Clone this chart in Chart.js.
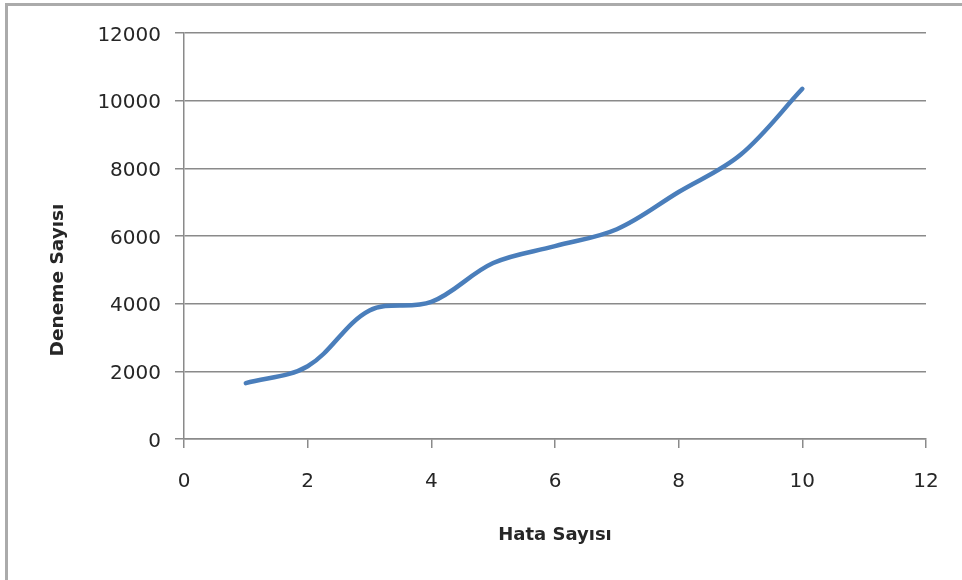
<!DOCTYPE html>
<html>
<head>
<meta charset="utf-8">
<script src="https://cdn.jsdelivr.net/npm/chart.js@4.4.1/dist/chart.umd.min.js"></script>
<style>
  html, body { margin: 0; padding: 0; background: #ffffff; }
  #wrap { width: 962px; height: 580px; position: relative; }
</style>
</head>
<body>
<div id="wrap"><canvas id="chart" width="962" height="580"></canvas></div>
<script>
// Hata sayısı (x) ve deneme sayısı (y)
const hataSayisi = [1, 2, 3, 4, 5, 6, 7, 8, 9, 10];
const denemeSayisi = [1650, 2150, 3800, 4050, 5200, 5700, 6200, 7300, 8400, 10350];

const xTitle = 'Hata Sayısı';
const yTitle = 'Deneme Sayısı';

const xRange = { min: 0, max: 12, step: 2 };
const yRange = { min: 0, max: 12000, step: 2000 };

const gridColor = '#8a8a8a';
const textColor = '#262626';
const lineColor = '#4a7ebb';

const points = hataSayisi.map((x, i) => ({ x: x, y: denemeSayisi[i] }));

// outer frame (left and top edges) and the rotated y-axis title
const framePlugin = {
  id: 'frame',
  beforeDraw(chart) {
    const ctx = chart.ctx;
    ctx.save();
    ctx.fillStyle = '#ffffff';
    ctx.fillRect(0, 0, chart.width, chart.height);
    ctx.fillStyle = '#ababab';
    ctx.fillRect(5, 3, chart.width, 3);
    ctx.fillRect(5, 3, 3, chart.height);
    ctx.restore();
  },
  afterDraw(chart) {
    const ctx = chart.ctx;
    ctx.save();
    ctx.translate(58.5, 280);
    ctx.rotate(-Math.PI / 2);
    ctx.font = 'bold 18.5px "DejaVu Sans"';
    ctx.fillStyle = textColor;
    ctx.textAlign = 'center';
    ctx.textBaseline = 'middle';
    ctx.fillText(yTitle, 0, 0);
    ctx.restore();
  }
};

new Chart(document.getElementById('chart'), {
  type: 'line',
  data: {
    datasets: [{
      data: points,
      borderColor: lineColor,
      borderWidth: 4.5,
      borderCapStyle: 'round',
      borderJoinStyle: 'round',
      tension: 0.35,
      pointRadius: 0,
      pointHoverRadius: 0,
      fill: false
    }]
  },
  options: {
    responsive: false,
    animation: false,
    devicePixelRatio: 1,
    layout: { padding: { left: 0, top: 33, right: 36, bottom: 0 } },
    plugins: {
      legend: { display: false },
      tooltip: { enabled: false }
    },
    scales: {
      x: {
        type: 'linear',
        min: xRange.min,
        max: xRange.max,
        afterFit(scale) { scale.height = 141; },
        border: { display: true, color: gridColor, width: 1.5 },
        grid: {
          drawOnChartArea: false,
          drawTicks: true,
          tickLength: 9,
          color: gridColor,
          lineWidth: 1.5
        },
        ticks: {
          stepSize: xRange.step,
          padding: 22,
          color: textColor,
          font: { family: '"DejaVu Sans"', size: 20 },
          maxRotation: 0,
          callback: v => String(v)
        },
        title: {
          display: true,
          text: xTitle,
          color: textColor,
          font: { family: '"DejaVu Sans"', size: 18, weight: 'bold' },
          padding: { top: 0, bottom: 34 }
        }
      },
      y: {
        type: 'linear',
        min: yRange.min,
        max: yRange.max,
        afterFit(scale) { scale.width = 184; },
        border: { display: true, color: gridColor, width: 1.5 },
        grid: {
          drawOnChartArea: true,
          drawTicks: true,
          tickLength: 9,
          color: gridColor,
          lineWidth: 1.5
        },
        ticks: {
          stepSize: yRange.step,
          padding: 14,
          labelOffset: 2.5,
          color: textColor,
          font: { family: '"DejaVu Sans"', size: 20 },
          callback: v => String(v)
        }
      }
    }
  },
  plugins: [framePlugin]
});
</script>
</body>
</html>
